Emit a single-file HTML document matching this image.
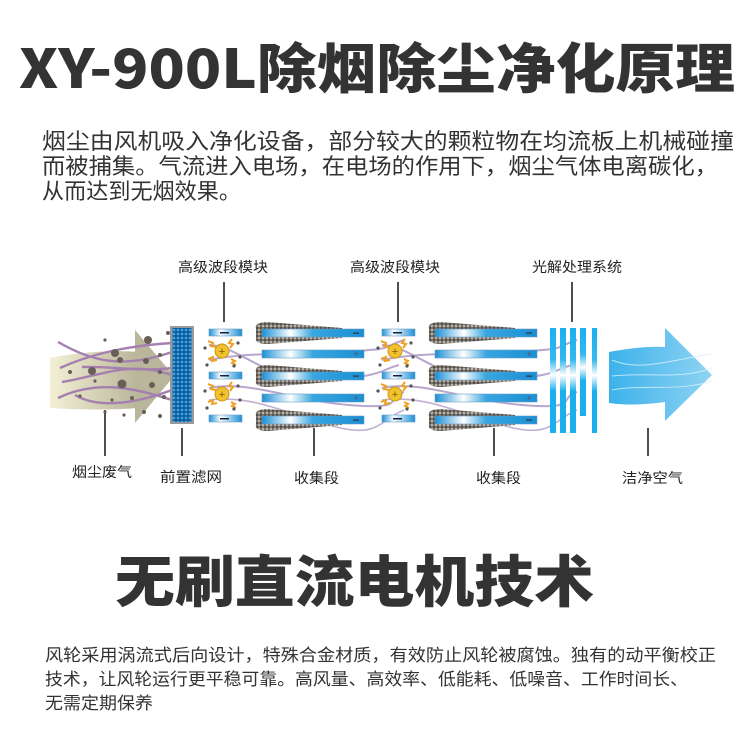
<!DOCTYPE html>
<html><head><meta charset="utf-8"><style>
html,body{margin:0;padding:0;background:#fff;width:750px;height:739px;overflow:hidden}
svg{display:block}
text{font-family:"Liberation Sans","Noto Sans CJK SC",sans-serif;fill:#333}
.h{font-family:"Noto Sans CJK SC","Liberation Sans",sans-serif;font-weight:900;fill:#333}
.lb{font-size:14px;fill:#222}
</style></head><body>
<svg width="750" height="739" viewBox="0 0 750 739" xmlns="http://www.w3.org/2000/svg">
<defs>
<linearGradient id="pl" x1="0" x2="1" y1="0" y2="0">
<stop offset="0" stop-color="#1a8fd6"/><stop offset="0.28" stop-color="#ffffff"/><stop offset="0.5" stop-color="#38a6e0"/><stop offset="1" stop-color="#1a8fd6"/></linearGradient>
<linearGradient id="pls" x1="0" x2="1"><stop offset="0" stop-color="#1a8fd6"/><stop offset="0.35" stop-color="#ffffff"/><stop offset="1" stop-color="#1a8fd6"/></linearGradient>
<linearGradient id="bar" x1="0" x2="0" y1="0" y2="1"><stop offset="0" stop-color="#1ab0ee"/><stop offset="0.3" stop-color="#33b8ef"/><stop offset="0.45" stop-color="#ffffff"/><stop offset="0.6" stop-color="#1ab0ee"/><stop offset="1" stop-color="#1ab0ee"/></linearGradient>
<linearGradient id="smk" x1="0" x2="1"><stop offset="0" stop-color="#f4f0d6"/><stop offset="1" stop-color="#b8b498"/></linearGradient>
<linearGradient id="air" x1="0" x2="1"><stop offset="0" stop-color="#3cb2ea"/><stop offset="1" stop-color="#8fd3f3"/></linearGradient>
<pattern id="mesh" width="4" height="4" patternUnits="userSpaceOnUse"><rect width="4" height="4" fill="#0a5a9a"/><circle cx="2" cy="2" r="1.4" fill="#3fa0e0"/></pattern>
<pattern id="dust" width="4" height="4" patternUnits="userSpaceOnUse"><rect width="4" height="4" fill="#7a746c"/><circle cx="1" cy="1" r="1" fill="#c8c4bc"/><circle cx="3" cy="3" r="0.9" fill="#3a3632"/></pattern>
<g id="collector">
 <path d="M-6,-4 Q-8,-11 6,-11 L80,-5 L80,5 L6,11 Q-8,11 -6,4 Z" fill="url(#dust)"/>
</g>
<g id="ion">
 <circle r="7" fill="#f2c12e" stroke="#c8961a" stroke-width="1"/>
 <text x="0" y="4" font-size="11" text-anchor="middle" style="fill:#7a5a00">+</text>
 <path d="M-14,-10 l5,2 -2,3 5,1" stroke="#f0a020" stroke-width="2" fill="none"/>
 <path d="M10,-12 l-3,4 4,1 -3,4" stroke="#f0a020" stroke-width="2" fill="none"/>
 <path d="M-14,8 l5,-2 -1,4 5,-1" stroke="#f0a020" stroke-width="2" fill="none"/>
 <path d="M9,8 l4,2 -3,2 4,2" stroke="#f0a020" stroke-width="2" fill="none"/>
 <circle cx="-17" cy="-3" r="1.6" fill="#555"/><circle cx="16" cy="-8" r="1.6" fill="#555"/><circle cx="18" cy="6" r="1.6" fill="#555"/><circle cx="-15" cy="14" r="1.6" fill="#555"/><circle cx="12" cy="15" r="1.6" fill="#555"/>
</g>
<g id="module">
 <rect x="0" y="329" width="33" height="7" fill="url(#pls)" stroke="#6a9cc0" stroke-width="0.6"/>
 <rect x="0" y="372" width="33" height="7" fill="url(#pls)" stroke="#6a9cc0" stroke-width="0.6"/>
 <rect x="0" y="415" width="33" height="7" fill="url(#pls)" stroke="#6a9cc0" stroke-width="0.6"/>
 <rect x="11" y="332" width="9" height="1.5" fill="#124"/><rect x="11" y="375" width="9" height="1.5" fill="#124"/><rect x="11" y="418" width="9" height="1.5" fill="#124"/>
 <path d="M0,345 C30,345 60,385 120,380 S170,370 190,365" stroke="#a590c0" stroke-width="2" fill="none" opacity="0.8"/>
 <path d="M0,360 C40,352 70,355 130,352 S170,348 195,340" stroke="#a590c0" stroke-width="2" fill="none" opacity="0.8"/>
 <path d="M0,388 C40,380 80,400 140,405 S175,398 195,392" stroke="#a590c0" stroke-width="2" fill="none" opacity="0.8"/>
 <path d="M0,400 C40,395 70,410 120,425 S170,420 195,410" stroke="#a590c0" stroke-width="1.6" fill="none" opacity="0.7"/>
 <use href="#ion" x="13" y="351"/>
 <use href="#ion" x="13" y="394"/>
 <use href="#collector" x="53" y="333"/>
 <use href="#collector" x="53" y="376"/>
 <use href="#collector" x="53" y="420"/>
 <rect x="53" y="329" width="102" height="8" fill="url(#pl)" stroke="#6a9cc0" stroke-width="0.6"/>
 <rect x="53" y="350" width="102" height="8" fill="url(#pl)" stroke="#6a9cc0" stroke-width="0.6"/>
 <rect x="53" y="372" width="102" height="8" fill="url(#pl)" stroke="#6a9cc0" stroke-width="0.6"/>
 <rect x="53" y="394" width="102" height="8" fill="url(#pl)" stroke="#6a9cc0" stroke-width="0.6"/>
 <rect x="53" y="416" width="102" height="8" fill="url(#pl)" stroke="#6a9cc0" stroke-width="0.6"/>
 <rect x="144" y="332.5" width="6" height="1.2" fill="#333"/><rect x="144" y="375.5" width="6" height="1.2" fill="#333"/><rect x="144" y="419.5" width="6" height="1.2" fill="#333"/>
 <text x="147" y="357" font-size="9" text-anchor="middle" style="fill:#555">+</text>
 <text x="147" y="401" font-size="9" text-anchor="middle" style="fill:#555">+</text>
</g>
</defs>

<text class="h" x="19" y="88" font-size="54" textLength="716" lengthAdjust="spacingAndGlyphs">XY-900L除烟除尘净化原理</text>

<text x="42" y="149" textLength="692" lengthAdjust="spacingAndGlyphs" style="fill:#333;font-size:22px">烟尘由风机吸入净化设备，部分较大的颗粒物在均流板上机械碰撞</text>
<text x="42" y="174" textLength="676" lengthAdjust="spacingAndGlyphs" style="fill:#333;font-size:22px">而被捕集。气流进入电场，在电场的作用下，烟尘气体电离碳化，</text>
<text x="42" y="199" textLength="199" lengthAdjust="spacingAndGlyphs" style="fill:#333;font-size:22px">从而达到无烟效果。</text>

<text class="lb" x="178" y="272" textLength="90" lengthAdjust="spacingAndGlyphs">高级波段模块</text>
<text class="lb" x="350" y="272" textLength="90" lengthAdjust="spacingAndGlyphs">高级波段模块</text>
<text class="lb" x="532" y="272" textLength="90" lengthAdjust="spacingAndGlyphs">光解处理系统</text>
<g stroke="#222" stroke-width="1.6">
<line x1="224" y1="282" x2="224" y2="322"/><line x1="398" y1="282" x2="398" y2="322"/><line x1="572" y1="282" x2="572" y2="322"/>
<line x1="105" y1="410" x2="105" y2="456"/><line x1="182" y1="428" x2="182" y2="456"/><line x1="314" y1="428" x2="314" y2="456"/><line x1="494" y1="428" x2="494" y2="456"/><line x1="648" y1="428" x2="648" y2="456"/>
</g>
<text class="lb" x="72" y="477" textLength="60" lengthAdjust="spacingAndGlyphs">烟尘废气</text>
<text class="lb" x="160" y="482" textLength="62" lengthAdjust="spacingAndGlyphs">前置滤网</text>
<text class="lb" x="294" y="483" textLength="45" lengthAdjust="spacingAndGlyphs">收集段</text>
<text class="lb" x="476" y="483" textLength="45" lengthAdjust="spacingAndGlyphs">收集段</text>
<text class="lb" x="622" y="483" textLength="61" lengthAdjust="spacingAndGlyphs">洁净空气</text>

<path d="M50,358 C80,352 110,350 140,352 L140,408 C110,410 80,410 50,408 Z" fill="url(#smk)"/>
<path d="M135,330 L174,376 L135,423 Z" fill="#b9b69c"/>
<g stroke="#a47fb0" stroke-width="2.4" fill="none">
<path d="M58,342 C90,360 120,370 172,352"/>
<path d="M60,368 C100,350 140,345 172,343"/>
<path d="M82,367 C110,366 140,372 172,368"/>
<path d="M62,382 C100,376 130,360 172,375"/>
<path d="M58,398 C100,378 140,390 172,400"/>
<path d="M75,395 C100,410 140,402 172,390"/>
</g>
<g fill="#6a5e58">
<circle cx="115" cy="353" r="4"/><circle cx="92" cy="371" r="4"/><circle cx="120" cy="360" r="3"/><circle cx="122" cy="384" r="4.5"/><circle cx="148" cy="340" r="4"/><circle cx="146" cy="361" r="3"/><circle cx="152" cy="385" r="3"/><circle cx="160" cy="355" r="2"/><circle cx="70" cy="372" r="2"/><circle cx="95" cy="381" r="1.6"/><circle cx="112" cy="400" r="1.6"/><circle cx="132" cy="398" r="2"/><circle cx="105" cy="340" r="1.6"/><circle cx="144" cy="412" r="2"/><circle cx="164" cy="397" r="2"/><circle cx="160" cy="416" r="2"/><circle cx="80" cy="396" r="1.6"/><circle cx="168" cy="333" r="2"/><circle cx="160" cy="372" r="2"/><circle cx="105" cy="412" r="1.6"/><circle cx="124" cy="415" r="1.6"/>
</g>
<rect x="170" y="326" width="24" height="98" fill="#9a9a9a"/>
<rect x="172.5" y="328" width="19" height="94" fill="url(#mesh)"/>

<use href="#module" x="209" y="0"/>
<use href="#module" x="382" y="0"/>

<rect x="550" y="328" width="6" height="105" fill="url(#bar)"/>
<rect x="560" y="328" width="6" height="105" fill="url(#bar)"/>
<rect x="570" y="328" width="6" height="105" fill="url(#bar)"/>
<rect x="580" y="328" width="6" height="88" fill="url(#bar)"/>
<rect x="592" y="328" width="5" height="105" fill="url(#bar)"/>

<path d="M609,352 C630,348 650,346 665,347 L665,328 L712,375 L665,421 L665,402 C650,404 630,406 609,403 Z" fill="url(#air)"/>
<g stroke="#d8f0fb" stroke-width="1" fill="none" opacity="0.8">
<path d="M612,360 C640,372 670,360 712,354"/><path d="M612,376 C650,372 680,380 712,368"/><path d="M612,390 C640,384 680,392 712,381"/>
</g>

<text class="h" x="115" y="602" font-size="56" textLength="479" lengthAdjust="spacingAndGlyphs">无刷直流电机技术</text>

<text x="45" y="661" textLength="671" lengthAdjust="spacingAndGlyphs" style="font-size:17px;fill:#333">风轮采用涡流式后向设计，特殊合金材质，有效防止风轮被腐蚀。独有的动平衡校正</text>
<text x="45" y="685" textLength="643" lengthAdjust="spacingAndGlyphs" style="font-size:17px;fill:#333">技术，让风轮运行更平稳可靠。高风量、高效率、低能耗、低噪音、工作时间长、</text>
<text x="45" y="709" textLength="108" lengthAdjust="spacingAndGlyphs" style="font-size:17px;fill:#333">无需定期保养</text>
</svg>
</body></html>
